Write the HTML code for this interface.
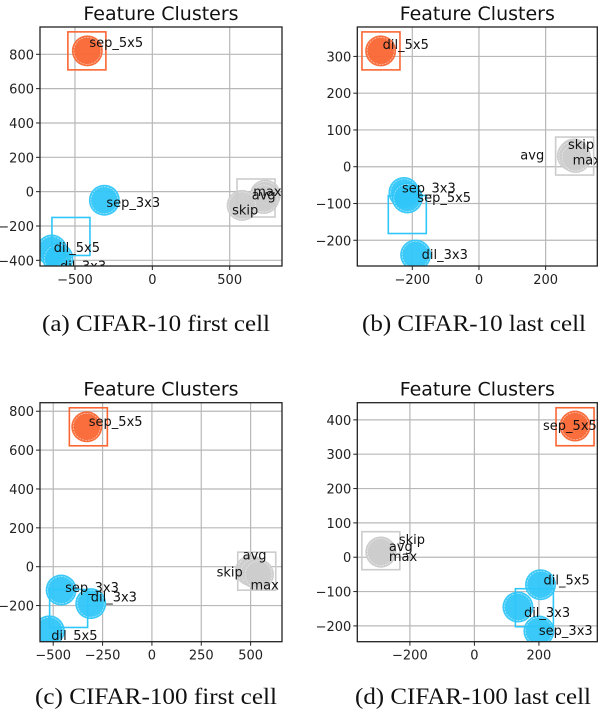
<!DOCTYPE html>
<html><head><meta charset="utf-8"><style>
html,body{margin:0;padding:0;background:#fff;}
svg{display:block;}
.tk{font-family:"DejaVu Sans",sans-serif;font-size:13px;fill:#222;}
.lb{font-family:"DejaVu Sans",sans-serif;font-size:13px;fill:#111;}
.tt{font-family:"DejaVu Sans",sans-serif;font-size:19px;fill:#111;}
.cap{font-family:"Liberation Serif",serif;font-size:23px;fill:#111;}
</style></head><body>
<svg id="fig" width="602" height="712" viewBox="0 0 602 712" xmlns="http://www.w3.org/2000/svg"></svg>
<script>
// ---- Panel data (data coordinates) ----
const aNames = ["sep_5x5","sep_3x3","dil_5x5","dil_3x3","max","avg","skip"];
const aX = [-420,-310,-650,-610,730,720,580];
const aY = [820,-50,-340,-390,-20,-40,-80];
const aGroup = ["o","b","b","b","g","g","g"];
const aBoxX = [-423,-526,670];
const aBoxY = [820,-261,-37];
const aXTicks = [-500,0,500];
const aYTicks = [-400,-200,0,200,400,600,800];

const bNames = ["dil_5x5","sep_3x3","sep_5x5","dil_3x3","skip","avg","max"];
const bX = [-295,-225,-215,-190,285,280,290];
const bY = [315,-70,-85,-240,35,30,25];
const bGroup = ["o","b","b","b","g","g","g"];
const bBoxX = [-294,-215,287];
const bBoxY = [315,-130,29];
const bXTicks = [-200,0,200];
const bYTicks = [-200,-100,0,100,200,300];

const cNames = ["sep_5x5","sep_3x3","dil_3x3","dil_5x5","avg","skip","max"];
const cX = [-330,-460,-310,-520,500,520,540];
const cY = [720,-120,-190,-330,-20,-30,-40];
const cGroup = ["o","b","b","b","g","g","g"];
const cBoxX = [-322,-422,531];
const cBoxY = [720,-215,-23];
const cXTicks = [-500,-250,0,250,500];
const cYTicks = [-200,0,200,400,600,800];

const dNames = ["sep_5x5","skip","avg","max","dil_5x5","dil_3x3","sep_3x3"];
const dX = [312,-290,-290,-290,205,135,200];
const dY = [382,15,15,15,-80,-145,-215];
const dGroup = ["o","g","g","g","b","b","b"];
const dBoxX = [312,186,-290];
const dBoxY = [380,-147,19];
const dBoxG = ["o","b","g"];
const dXTicks = [-200,0,200];
const dYTicks = [-200,-100,0,100,200,300,400];

const COL = {o:"#fa6633", b:"#2fc6f9", g:"#cccccc"};
const NS = "http://www.w3.org/2000/svg";
const svg = document.getElementById("fig");

function mk(tag, attrs, parent){
  const e = document.createElementNS(NS, tag);
  for (const k in attrs) e.setAttribute(k, attrs[k]);
  (parent||svg).appendChild(e);
  return e;
}

const labOff = {
  a:[[2,-8],[2,3],[2,-2],[2,8],[-12,-3],[-12,-3],[-10,5]],
  b:[[2,-6],[-2,-4],[10,0],[6,0],[-6,-9],[-52,0],[-3,3]],
  c:[[2,-5],[4,-2],[0,-6],[2,5],[-8,-15],[-38,0],[-8,11]],
  d:[[-32,0],[18,-12],[8,-5],[8,5],[3,-4],[6,6],[0,0]]
};

function panel(key, L, T, R, B, xmin, xmax, ymin, ymax, names, xs, ys, grp, boxX, boxY, boxG, xt, yt, caption, capX, capY, capW){
  const g = mk("g", {});
  
  
  const sx = v => L + (v - xmin) / (xmax - xmin) * (R - L);
  const sy = v => B - (v - ymin) / (ymax - ymin) * (B - T);
  const cid = "clip" + key;
  const cp = mk("clipPath", {id: cid}, g);
  mk("rect", {x: L, y: T, width: R - L, height: B - T}, cp);
  xt.forEach(v => {
    const ln = mk("line", {x1: sx(v), x2: sx(v), y1: T, y2: B, stroke: "#b8b8b8", "stroke-width": 1.2}, g);
    
    
    mk("line", {x1: sx(v), x2: sx(v), y1: B, y2: B + 4, stroke: "#222", "stroke-width": 1}, g);
    const t = mk("text", {x: sx(v), y: B + 18, "text-anchor": "middle", class: "tk"}, g);
    t.textContent = (v < 0 ? "\u2212" + (-v) : v);
    
    
  });
  yt.forEach(v => {
    const ln = mk("line", {x1: L, x2: R, y1: sy(v), y2: sy(v), stroke: "#b8b8b8", "stroke-width": 1.2}, g);
    
    
    mk("line", {x1: L - 4, x2: L, y1: sy(v), y2: sy(v), stroke: "#222", "stroke-width": 1}, g);
    const t = mk("text", {x: L - 6, y: sy(v) + 5, "text-anchor": "end", class: "tk"}, g);
    t.textContent = (v < 0 ? "\u2212" + (-v) : v);
    
    
  });
  const pg = mk("g", {"clip-path": "url(#" + cid + ")"}, g);
  names.forEach((n, i) => {
    const c = mk("circle", {cx: sx(xs[i]), cy: sy(ys[i]), r: 15.5, fill: COL[grp[i]], "fill-opacity": 0.95}, pg);
    
    
    mk("circle", {cx: sx(xs[i]), cy: sy(ys[i]), r: 13.5, fill: "none", stroke: "#fff", "stroke-opacity": 0.6, "stroke-width": 0.7, "stroke-dasharray": "2 1"}, pg);
  });
  boxX.forEach((v, i) => {
    const r = mk("rect", {x: sx(v) - 19, y: sy(boxY[i]) - 19, width: 38, height: 38, fill: "none", stroke: COL[boxG[i]], "stroke-width": 1.6}, pg);
    
    
  });
  names.forEach((n, i) => {
    const o = labOff[key][i];
    const t = mk("text", {x: sx(xs[i]) + o[0], y: sy(ys[i]) + 4 + o[1], class: "lb"}, pg);
    t.textContent = n;
    
    
  });
  const fr = mk("rect", {x: L, y: T, width: R - L, height: B - T, fill: "none", stroke: "#222", "stroke-width": 1.3}, g);
  
  
  const tt = mk("text", {x: (L + R) / 2, y: T - 7, "text-anchor": "middle", class: "tt"}, g);
  tt.textContent = "Feature Clusters";
  
  
  const cap = mk("text", {x: capX - capW / 2, y: capY, class: "cap", textLength: capW, lengthAdjust: "spacingAndGlyphs"}, g);
  cap.textContent = caption;
  
  
}

panel("a", 40, 27, 282, 266, -726, 838, -433, 959, aNames, aX, aY, aGroup, aBoxX, aBoxY, ["o","b","g"], aXTicks, aYTicks, "(a) CIFAR-10 first cell", 156, 331, 228);
panel("b", 357.3, 27, 597.3, 266, -365, 355, -270, 380, bNames, bX, bY, bGroup, bBoxX, bBoxY, ["o","b","g"], bXTicks, bYTicks, "(b) CIFAR-10 last cell", 474, 331, 224);
panel("c", 40, 402.7, 282, 641.7, -567, 659, -386, 844, cNames, cX, cY, cGroup, cBoxX, cBoxY, ["o","b","g"], cXTicks, cYTicks, "(c) CIFAR-100 first cell", 156, 704, 242);
panel("d", 357.3, 402.7, 597.3, 641.7, -363, 381, -246, 450, dNames, dX, dY, dGroup, dBoxX, dBoxY, dBoxG, dXTicks, dYTicks, "(d) CIFAR-100 last cell", 473, 704, 236);
</script>
</body></html>
